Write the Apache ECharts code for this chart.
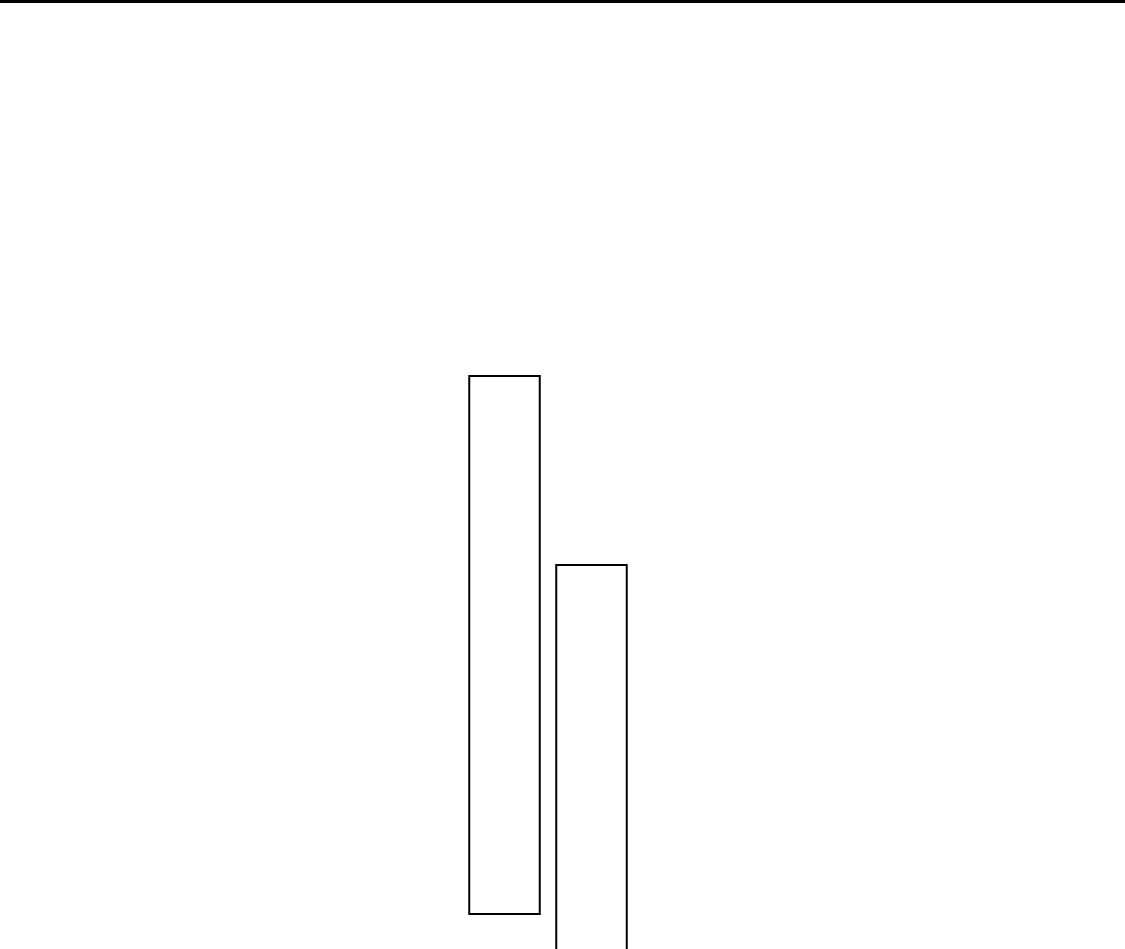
<!DOCTYPE html>
<html>
<head>
<meta charset="utf-8">
<script src="https://cdn.jsdelivr.net/npm/echarts@6/dist/echarts.min.js"></script>
<style>
html,body{margin:0;padding:0;background:#fff;}
#chart{width:1125px;height:949px;}
</style>
</head>
<body>
<div id="chart"></div>
<script>
// Data
var categories = ['A', 'B'];
var baseValues = [8.5, 0];      // invisible offset (floating start)
var barValues = [54.0, 43.6];   // visible bar lengths

var chart = echarts.init(document.getElementById('chart'), null, {renderer: 'canvas'});
chart.setOption({
  backgroundColor: '#ffffff',
  animation: false,
  grid: [
    {left: 461, width: 174, top: 0, height: 1000, containLabel: false, outerBoundsMode: 'none'},
    {left: 0, right: 0, top: 1.5, height: 10, containLabel: false, outerBoundsMode: 'none'}
  ],
  xAxis: [
    {
      type: 'category', data: categories, gridIndex: 0,
      axisLine: {show: false}, axisTick: {show: false}, axisLabel: {show: false}, splitLine: {show: false}
    },
    {
      type: 'value', gridIndex: 1, position: 'top', min: 0, max: 1,
      axisLine: {show: true, onZero: false, lineStyle: {color: '#000', width: 3}},
      axisTick: {show: false}, axisLabel: {show: false}, splitLine: {show: false}
    }
  ],
  yAxis: [
    {
      type: 'value', gridIndex: 0, min: 0, max: 100,
      axisLine: {show: false}, axisTick: {show: false}, axisLabel: {show: false}, splitLine: {show: false}
    },
    {
      type: 'value', gridIndex: 1, show: false, min: 0, max: 1
    }
  ],
  series: [
    {
      type: 'bar', stack: 's', data: baseValues, barWidth: 72.5,
      itemStyle: {color: 'rgba(0,0,0,0)', borderWidth: 0},
      silent: true
    },
    {
      type: 'bar', stack: 's', data: barValues, barWidth: 72.5,
      itemStyle: {color: '#ffffff', borderColor: '#000000', borderWidth: 2}
    }
  ]
});
</script>
</body>
</html>
